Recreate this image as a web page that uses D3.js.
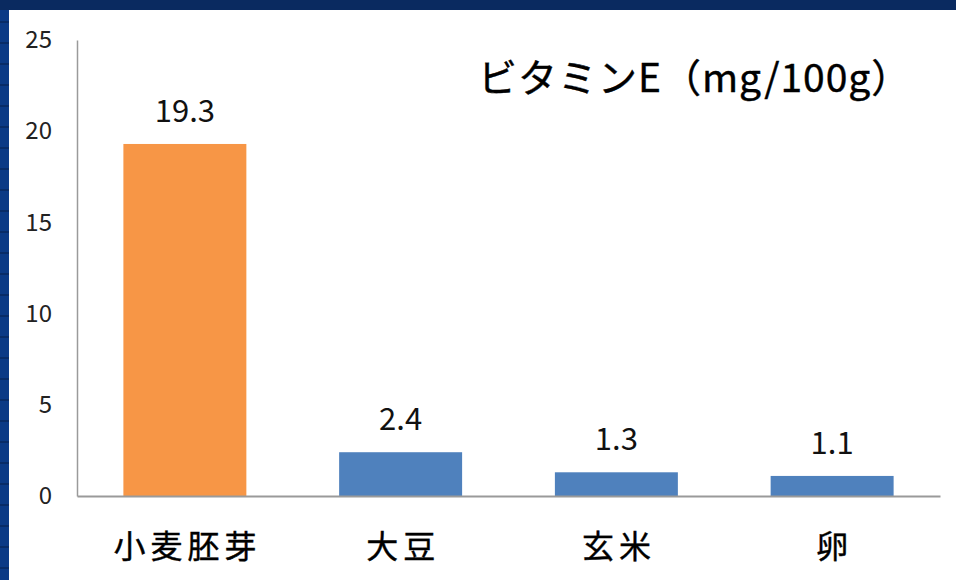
<!DOCTYPE html>
<html><head><meta charset="utf-8">
<script src="https://cdn.jsdelivr.net/npm/d3@7"></script>
<style>body{margin:0;background:#fff;}svg{display:block;}</style>
</head><body>
<svg id="c" width="956" height="580"></svg>
<script>
const categories = ["小麦胚芽", "大豆", "玄米", "卵"];
const values = [19.3, 2.4, 1.3, 1.1];
const valueLabels = ["19.3", "2.4", "1.3", "1.1"];
const barColors = ["#F79646", "#4F81BD", "#4F81BD", "#4F81BD"];
const yTicks = [0, 5, 10, 15, 20, 25];
const title = "ビタミンE（mg/100g）";

const svg = d3.select("#c");
const W = 956, H = 580;
const font = "'Noto Sans CJK JP','Noto Sans',sans-serif";

// frame background
svg.append("rect").attr("x",0).attr("y",0).attr("width",W).attr("height",H).attr("fill","#0B3A86");
svg.append("rect").attr("x",0).attr("y",0).attr("width",W).attr("height",10).attr("fill","#0A2A60");
const stripes = d3.range(22, H, 21);
svg.selectAll("line.stripe").data(stripes).join("line")
  .attr("x1",0).attr("x2",9).attr("y1",d=>d).attr("y2",d=>d)
  .attr("stroke","#082C68").attr("stroke-width",2);
svg.append("rect").attr("x",9).attr("y",10).attr("width",W-9).attr("height",H-10).attr("fill","#fff");

const m = {left:77, right:940, top:40, bottom:496};
const x = d3.scaleBand().domain(categories).range([m.left, m.right]).paddingInner(0.43).paddingOuter(0.215);
const y = d3.scaleLinear().domain([0,25]).range([m.bottom, m.top]);

// bars
svg.selectAll("rect.bar").data(categories).join("rect")
  .attr("x", d=>x(d)).attr("width", x.bandwidth())
  .attr("y", (d,i)=>y(values[i])).attr("height", (d,i)=>y(0)-y(values[i]))
  .attr("fill", (d,i)=>barColors[i]);

// axes
const yAxis = d3.axisLeft(y).tickValues(yTicks).tickSize(0).tickPadding(25);
const gy = svg.append("g").attr("transform",`translate(${m.left},0)`).call(yAxis);
gy.select(".domain").attr("stroke","#9a9a9a").attr("stroke-width",1.5);
gy.selectAll("text").attr("font-family",font).attr("font-size",24).attr("fill","#222");

const xAxis = d3.axisBottom(x).tickSize(0).tickPadding(39);
const gx = svg.append("g").attr("transform",`translate(0,${m.bottom})`).call(xAxis);
gx.select(".domain").attr("stroke","#9a9a9a").attr("stroke-width",2);
gx.selectAll("text").attr("font-family",font).attr("font-size",32).attr("fill","#000")
  .attr("stroke","#000").attr("stroke-width",0.4)
  .attr("letter-spacing","5px").attr("dx","2.5px");

// value labels
svg.selectAll("text.val").data(categories).join("text")
  .attr("x", d=>x(d)+x.bandwidth()/2)
  .attr("y", (d,i)=>y(values[i]) - 22)
  .attr("text-anchor","middle").attr("font-family",font).attr("font-size",31).attr("fill","#111")
  .text((d,i)=>valueLabels[i]);

// title
svg.append("text").attr("x",478).attr("y",92).attr("font-family",font).attr("font-size",39)
  .attr("fill","#000").attr("stroke","#000").attr("stroke-width",0.4)
  .attr("letter-spacing","1px").text(title);
</script>
</body></html>
